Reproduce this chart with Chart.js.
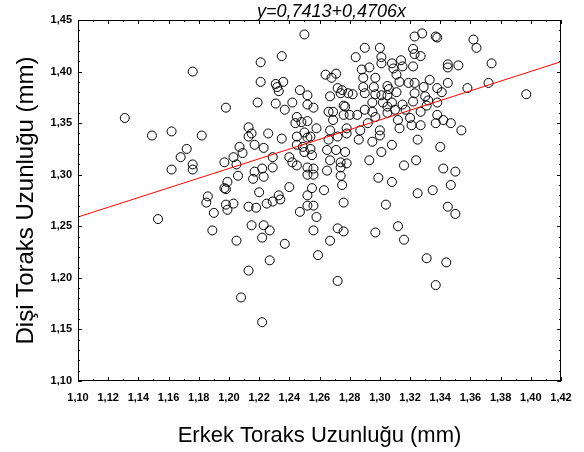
<!DOCTYPE html>
<html>
<head>
<meta charset="utf-8">
<title>Toraks uzunluğu</title>
<script src="https://cdn.jsdelivr.net/npm/chart.js@4"></script>
<style>
  html, body { margin: 0; padding: 0; background: #fff; }
  #wrap { width: 584px; height: 452px; }
</style>
</head>
<body>
<div id="wrap"><canvas id="chart" width="584" height="452"></canvas></div>
<script>
// erkek (x) ve dişi (y) toraks uzunlukları, mm
var erkek = [
  1.131, 1.149, 1.162, 1.176, 1.182, 1.198, 1.172, 1.168, 1.176, 1.176,
  1.162, 1.197, 1.203, 1.205, 1.207, 1.199, 1.206, 1.197, 1.198, 1.186,
  1.185, 1.198, 1.203, 1.199, 1.190, 1.153, 1.189,
  1.250, 1.221, 1.235, 1.221, 1.231, 1.236, 1.233, 1.232, 1.219, 1.247,
  1.252, 1.242, 1.231, 1.237, 1.252, 1.256, 1.245, 1.244, 1.248, 1.252,
  1.213, 1.215, 1.226, 1.258, 1.250, 1.264, 1.271, 1.268, 1.267, 1.272,
  1.274, 1.269, 1.266, 1.277, 1.276, 1.269, 1.267, 1.279,
  1.328, 1.323, 1.337, 1.338, 1.290, 1.300, 1.284, 1.301, 1.322, 1.323,
  1.327, 1.301, 1.288, 1.293, 1.308, 1.309, 1.314, 1.315, 1.322, 1.345,
  1.345, 1.352, 1.289, 1.297, 1.311, 1.313, 1.319, 1.323, 1.333, 1.329,
  1.338, 1.341, 1.345, 1.305, 1.306, 1.289, 1.290, 1.296, 1.297, 1.282,
  1.275, 1.301, 1.305, 1.311, 1.323, 1.330, 1.276, 1.295, 1.302, 1.305,
  1.308, 1.310, 1.315, 1.317, 1.322, 1.332, 1.331, 1.327, 1.338, 1.290,
  1.295, 1.305, 1.280, 1.285, 1.297, 1.312, 1.320, 1.338, 1.342, 1.347,
  1.321, 1.327, 1.337, 1.278, 1.292, 1.287, 1.300, 1.313, 1.300,
  1.362, 1.364, 1.374, 1.358, 1.372, 1.397, 1.354,
  1.213, 1.235, 1.245, 1.252, 1.254, 1.278, 1.266, 1.272, 1.217, 1.209,
  1.223, 1.245, 1.249, 1.254, 1.250, 1.255, 1.265, 1.271, 1.277, 1.229,
  1.240, 1.242, 1.267, 1.274, 1.278, 1.217, 1.222, 1.229, 1.245, 1.252,
  1.256, 1.265, 1.274, 1.216, 1.223, 1.252, 1.256, 1.274, 1.240, 1.255,
  1.263, 1.275, 1.220, 1.233, 1.252, 1.234, 1.229, 1.225, 1.213, 1.218,
  1.252, 1.256, 1.276, 1.247, 1.258, 1.215, 1.223, 1.227, 1.256, 1.272,
  1.222,
  1.208, 1.222, 1.213, 1.272,
  1.286, 1.295, 1.308, 1.325, 1.340, 1.301, 1.293, 1.299, 1.308, 1.316,
  1.324, 1.342, 1.350, 1.347, 1.335, 1.325, 1.304, 1.345, 1.350, 1.297,
  1.312, 1.316, 1.331, 1.344, 1.337,
  1.205, 1.237, 1.267, 1.227, 1.259, 1.276
];
var disi = [
  1.355, 1.338, 1.342, 1.400, 1.338, 1.365, 1.325, 1.317, 1.310, 1.305,
  1.305, 1.312, 1.317, 1.310, 1.327, 1.293, 1.299, 1.287, 1.286, 1.279,
  1.273, 1.271, 1.272, 1.266, 1.263, 1.257, 1.246,
  1.436, 1.409, 1.415, 1.390, 1.388, 1.390, 1.381, 1.385, 1.370, 1.382,
  1.377, 1.370, 1.369, 1.363, 1.368, 1.365, 1.356, 1.350, 1.351, 1.352,
  1.346, 1.340, 1.340, 1.345, 1.341, 1.397, 1.398, 1.394, 1.376, 1.384,
  1.379, 1.361, 1.361, 1.366, 1.358, 1.353, 1.343, 1.379,
  1.437, 1.434, 1.434, 1.433, 1.423, 1.423, 1.414, 1.414, 1.422, 1.417,
  1.415, 1.408, 1.402, 1.404, 1.408, 1.403, 1.411, 1.405, 1.405, 1.407,
  1.404, 1.406, 1.394, 1.394, 1.397, 1.390, 1.389, 1.389, 1.392, 1.385,
  1.384, 1.380, 1.389, 1.386, 1.383, 1.385, 1.379, 1.385, 1.378, 1.378,
  1.382, 1.377, 1.377, 1.380, 1.379, 1.376, 1.367, 1.370, 1.370, 1.366,
  1.370, 1.363, 1.368, 1.363, 1.371, 1.372, 1.367, 1.361, 1.370, 1.363,
  1.361, 1.360, 1.358, 1.358, 1.356, 1.353, 1.355, 1.358, 1.353, 1.350,
  1.348, 1.348, 1.350, 1.345, 1.350, 1.343, 1.343, 1.345, 1.338,
  1.431, 1.423, 1.408, 1.384, 1.389, 1.378, 1.343,
  1.337, 1.335, 1.337, 1.336, 1.337, 1.340, 1.334, 1.337, 1.329, 1.321,
  1.326, 1.329, 1.327, 1.325, 1.322, 1.319, 1.324, 1.324, 1.322, 1.317,
  1.317, 1.312, 1.314, 1.312, 1.311, 1.303, 1.306, 1.307, 1.309, 1.307,
  1.306, 1.304, 1.307, 1.296, 1.298, 1.300, 1.300, 1.299, 1.288, 1.287,
  1.285, 1.290, 1.283, 1.280, 1.280, 1.276, 1.274, 1.272, 1.269, 1.268,
  1.270, 1.270, 1.273, 1.264, 1.259, 1.251, 1.251, 1.246, 1.246, 1.248,
  1.239,
  1.181, 1.157, 1.207, 1.197,
  1.334, 1.332, 1.329, 1.334, 1.327, 1.322, 1.314, 1.297, 1.293, 1.309,
  1.314, 1.306, 1.303, 1.290, 1.285, 1.282, 1.271, 1.269, 1.262, 1.244,
  1.250, 1.237, 1.219, 1.215, 1.193,
  1.236, 1.233, 1.236, 1.217, 1.222, 1.245
];

// regresyon doğrusu: y = a + b*x
var intercept = 0.7413;
var slope = 0.4706;
var xMin = 1.10, xMax = 1.42, xStep = 0.02;
var yMin = 1.10, yMax = 1.45, yStep = 0.05;

var points = erkek.map(function(v, i){ return { x: v, y: disi[i] }; });
var fitLine = [xMin, xMax].map(function(v){ return { x: v, y: intercept + slope * v }; });

function comma(v) { return v.toFixed(2).replace('.', ','); }

// plot frame with small inward ticks on all four sides, plus the equation on top
var frame = {
  id: 'frame',
  afterDraw: function(chart) {
    var c = chart.ctx, a = chart.chartArea, sx = chart.scales.x, sy = chart.scales.y;
    c.save();
    c.strokeStyle = '#000';
    c.lineWidth = 1;
    c.strokeRect(a.left + 0.5, a.top + 0.5, a.right - a.left - 1, a.bottom - a.top - 1);
    c.beginPath();
    var n = Math.round((xMax - xMin) / 0.01), i, p, len;
    for (i = 0; i <= n; i++) {
      p = Math.round(sx.getPixelForValue(xMin + i * 0.01)) + 0.5;
      len = i % 2 === 0 ? 4 : 2;
      c.moveTo(p, a.bottom); c.lineTo(p, a.bottom - len);
      c.moveTo(p, a.top); c.lineTo(p, a.top + len);
    }
    n = Math.round((yMax - yMin) / 0.01);
    for (i = 0; i <= n; i++) {
      p = Math.round(sy.getPixelForValue(yMin + i * 0.01)) + 0.5;
      len = i % 5 === 0 ? 4 : 2;
      c.moveTo(a.left, p); c.lineTo(a.left + len, p);
      c.moveTo(a.right, p); c.lineTo(a.right - len, p);
    }
    c.stroke();
    c.fillStyle = '#000';
    c.font = 'italic 18px "Liberation Sans", Arial, sans-serif';
    c.textAlign = 'center';
    c.textBaseline = 'alphabetic';
    c.fillText('y=0,7413+0,4706x', (a.left + a.right) / 2 + 12, 17);
    c.restore();
  }
};

var ctx = document.getElementById('chart').getContext('2d');
var chart = new Chart(ctx, {
  type: 'scatter',
  data: {
    datasets: [{
      type: 'line',
      data: fitLine,
      borderColor: '#ff0000',
      borderWidth: 1,
      pointRadius: 0,
      fill: false
    }, {
      data: points,
      pointRadius: 4.5,
      pointBorderWidth: 1,
      pointBorderColor: '#000',
      pointBackgroundColor: 'rgba(0,0,0,0)'
    }]
  },
  options: {
    responsive: false,
    animation: false,
    devicePixelRatio: 1,
    layout: { padding: { top: 20, right: 23, left: 0, bottom: 0 } },
    plugins: { legend: { display: false }, tooltip: { enabled: false } },
    scales: {
      x: {
        type: 'linear',
        min: xMin, max: xMax,
        grid: { display: false, drawTicks: false },
        border: { display: false },
        ticks: {
          stepSize: xStep,
          padding: 10,
          color: '#000',
          font: { family: '"Liberation Sans", Arial, sans-serif', size: 11, weight: 'bold' },
          maxRotation: 0,
          autoSkip: false,
          callback: function(v){ return comma(v); }
        },
        title: {
          display: true,
          text: 'Erkek Toraks Uzunluğu (mm)',
          color: '#000',
          font: { family: '"Liberation Sans", Arial, sans-serif', size: 22, lineHeight: 1 },
          padding: { top: 0, bottom: 5 }
        },
        afterFit: function(s){ s.height = 71; }
      },
      y: {
        type: 'linear',
        min: yMin, max: yMax,
        grid: { display: false, drawTicks: false },
        border: { display: false },
        ticks: {
          stepSize: yStep,
          padding: 6,
          color: '#000',
          font: { family: '"Liberation Sans", Arial, sans-serif', size: 11, weight: 'bold' },
          callback: function(v){ return comma(v); }
        },
        title: {
          display: true,
          text: 'Dişi Toraks Uzunluğu (mm)',
          color: '#000',
          font: { family: '"Liberation Sans", Arial, sans-serif', size: 24, lineHeight: 1 },
          padding: { top: 14, bottom: 0 }
        },
        afterFit: function(s){ s.width = 78; }
      }
    }
  },
  plugins: [frame]
});
</script>
</body>
</html>
